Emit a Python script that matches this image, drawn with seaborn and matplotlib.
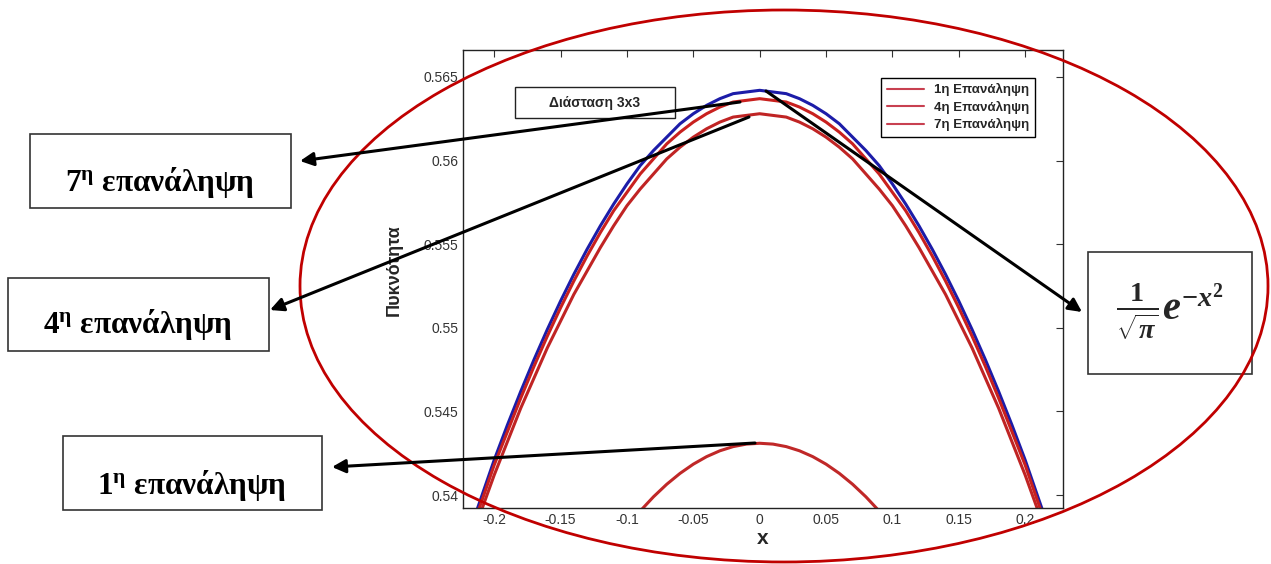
import pandas as pd
import matplotlib.pyplot as plt
import seaborn as sns
from matplotlib.patches import Ellipse, Rectangle
from matplotlib.lines import Line2D

# values
x_full = [-0.22, -0.21, -0.20, -0.19, -0.18, -0.17, -0.16, -0.15, -0.14, -0.13, -0.12, -0.11,
          -0.10, -0.09, -0.08, -0.07, -0.06, -0.05, -0.04, -0.03, -0.02, -0.01, 0.0,
          0.01, 0.02, 0.03, 0.04, 0.05, 0.06, 0.07, 0.08, 0.09, 0.10, 0.11,
          0.12, 0.13, 0.14, 0.15, 0.16, 0.17, 0.18, 0.19, 0.20, 0.21, 0.22]
y_exact = [0.5375, 0.5398, 0.5421, 0.5442, 0.5462, 0.5481, 0.5499, 0.5516, 0.5532, 0.5547, 0.5561, 0.5574,
           0.5586, 0.5597, 0.5606, 0.5614, 0.5622, 0.5628, 0.5633, 0.5637, 0.5640, 0.5641, 0.5642,
           0.5641, 0.5640, 0.5637, 0.5633, 0.5628, 0.5622, 0.5614, 0.5606, 0.5597, 0.5586, 0.5574,
           0.5561, 0.5547, 0.5532, 0.5516, 0.5499, 0.5481, 0.5462, 0.5442, 0.5421, 0.5398, 0.5375]
y_iter7 = [0.5372, 0.5395, 0.5418, 0.5438, 0.5458, 0.5477, 0.5495, 0.5512, 0.5528, 0.5543, 0.5557, 0.5570,
           0.5581, 0.5592, 0.5601, 0.5610, 0.5617, 0.5623, 0.5628, 0.5632, 0.5635, 0.5636, 0.5637,
           0.5636, 0.5635, 0.5632, 0.5628, 0.5623, 0.5617, 0.5610, 0.5601, 0.5592, 0.5581, 0.5570,
           0.5557, 0.5543, 0.5528, 0.5512, 0.5495, 0.5477, 0.5458, 0.5438, 0.5418, 0.5395, 0.5372]
y_iter4 = [0.5367, 0.5390, 0.5412, 0.5432, 0.5452, 0.5470, 0.5488, 0.5504, 0.5520, 0.5534, 0.5548, 0.5561,
           0.5573, 0.5583, 0.5592, 0.5601, 0.5608, 0.5614, 0.5619, 0.5623, 0.5626, 0.5627, 0.5628,
           0.5627, 0.5626, 0.5623, 0.5619, 0.5614, 0.5608, 0.5601, 0.5592, 0.5583, 0.5573, 0.5561,
           0.5548, 0.5534, 0.5520, 0.5504, 0.5488, 0.5470, 0.5452, 0.5432, 0.5412, 0.5390, 0.5367]
x_iter1 = [-0.10, -0.09, -0.08, -0.07, -0.06, -0.05, -0.04, -0.03, -0.02, -0.01, 0.0,
           0.01, 0.02, 0.03, 0.04, 0.05, 0.06, 0.07, 0.08, 0.09, 0.10]
y_iter1 = [0.5381, 0.53905, 0.5399, 0.54065, 0.5413, 0.54185, 0.5423, 0.54265, 0.5429, 0.54305, 0.5431,
           0.54305, 0.5429, 0.54265, 0.5423, 0.54185, 0.5413, 0.54065, 0.5399, 0.53905, 0.5381]

legend_labels = ['1η Επανάληψη', '4η Επανάληψη', '7η Επανάληψη']
x_ticks = [-0.2, -0.15, -0.1, -0.05, 0, 0.05, 0.1, 0.15, 0.2]
x_ticklabels = ['-0.2', '-0.15', '-0.1', '-0.05', '0', '0.05', '0.1', '0.15', '0.2']
y_ticks = [0.54, 0.545, 0.55, 0.555, 0.56, 0.565]
y_ticklabels = ['0.54', '0.545', '0.55', '0.555', '0.56', '0.565']

df = pd.concat([
    pd.DataFrame({'x': x_full, 'y': y_exact, 'series': 'exact'}),
    pd.DataFrame({'x': x_full, 'y': y_iter7, 'series': 'iter7'}),
    pd.DataFrame({'x': x_full, 'y': y_iter4, 'series': 'iter4'}),
    pd.DataFrame({'x': x_iter1, 'y': y_iter1, 'series': 'iter1'}),
])
palette = {'exact': '#1c1ca8', 'iter7': '#c8201e', 'iter4': '#c02424', 'iter1': '#c02828'}

sns.set_style('white')
plt.rcParams['font.family'] = ['Liberation Sans', 'DejaVu Sans']
plt.rcParams['mathtext.fontset'] = 'custom'
plt.rcParams['mathtext.rm'] = 'Liberation Serif:bold'
plt.rcParams['mathtext.it'] = 'Liberation Serif:bold:italic'
plt.rcParams['mathtext.bf'] = 'Liberation Serif:bold'

fig = plt.figure(figsize=(12.71, 5.64), dpi=100)
fig.patch.set_facecolor('white')
ax = fig.add_axes([463 / 1271, 56 / 564, 600 / 1271, 458 / 564])

sns.lineplot(data=df, x='x', y='y', hue='series', palette=palette, legend=False,
             linewidth=2.2, ax=ax)

ax.set_xlim(-0.2235, 0.2285)
ax.set_ylim(0.53923, 0.56661)
ax.set_xticks(x_ticks)
ax.set_xticklabels(x_ticklabels)
ax.set_yticks(y_ticks)
ax.set_yticklabels(y_ticklabels)
ax.tick_params(direction='in', top=True, right=True, length=5, width=0.8,
               labelsize=10, labelcolor='#333333', color='#333333')
for s in ax.spines.values():
    s.set_color('#222222')
    s.set_linewidth(1)

ax.set_xlabel('x', fontsize=15, fontweight='bold')
ax.set_ylabel('Πυκνότητα', fontsize=13, fontweight='bold')
ax.xaxis.set_label_coords(0.5, -0.045)
ax.yaxis.set_label_coords(-0.10, 0.52)

handles = [Line2D([], [], color='#c84050', lw=1.5) for _ in legend_labels]
leg = ax.legend(handles, legend_labels, loc='upper right', bbox_to_anchor=(0.953, 0.939),
                borderaxespad=0, fancybox=False, framealpha=1, edgecolor='black',
                prop={'size': 9.5, 'weight': 'bold'}, handlelength=2.8,
                labelspacing=0.35, borderpad=0.4)
leg.get_frame().set_linewidth(1)

# annotation layer in pixel coordinates
ov = fig.add_axes([0, 0, 1, 1])
ov.set_xlim(0, 1271)
ov.set_ylim(564, 0)
ov.axis('off')
ov.patch.set_alpha(0)

# box inside the plot
ov.add_patch(Rectangle((515, 87), 160, 31, fill=True, fc='white', ec='#222222', lw=1))
ov.text(595, 103, 'Διάσταση 3x3', ha='center', va='center', fontsize=10, fontweight='bold')

serif = ['Liberation Serif', 'DejaVu Serif']
boxes = [
    ((30, 134, 261, 74), (160, 191), '7'),
    ((8, 278, 261, 73), (138, 333), '4'),
    ((63, 436, 259, 74), (192, 494), '1'),
]
for (bx, by, bw, bh), (tx, ty), n in boxes:
    ov.add_patch(Rectangle((bx, by), bw, bh, fill=False, ec='#333333', lw=1.2))
    ov.text(tx, ty, n + r'$^{\mathrm{\eta}}$ επανάληψη', ha='center', va='baseline',
            fontsize=22.5, fontweight='bold', family=serif, color='black')

ov.add_patch(Rectangle((1088, 252), 164, 122, fill=False, ec='#333333', lw=1.2))
ov.text(1170, 312, r'$\frac{1}{\sqrt{\pi}}e^{-x^{2}}$', ha='center', va='center', fontsize=29)

arrows = [
    ((740, 102), (300, 161)),
    ((749, 117), (270, 310)),
    ((755, 443), (332, 467)),
    ((766, 91), (1082, 312)),
]
for tail, head in arrows:
    ov.annotate('', xy=head, xytext=tail,
                arrowprops=dict(arrowstyle='-|>', lw=2.2, color='black', mutation_scale=20,
                                shrinkA=0, shrinkB=0))

ov.add_patch(Ellipse((784, 286), 968, 552, fill=False, ec='#c00000', lw=2))

plt.savefig('out.png', dpi=100)
